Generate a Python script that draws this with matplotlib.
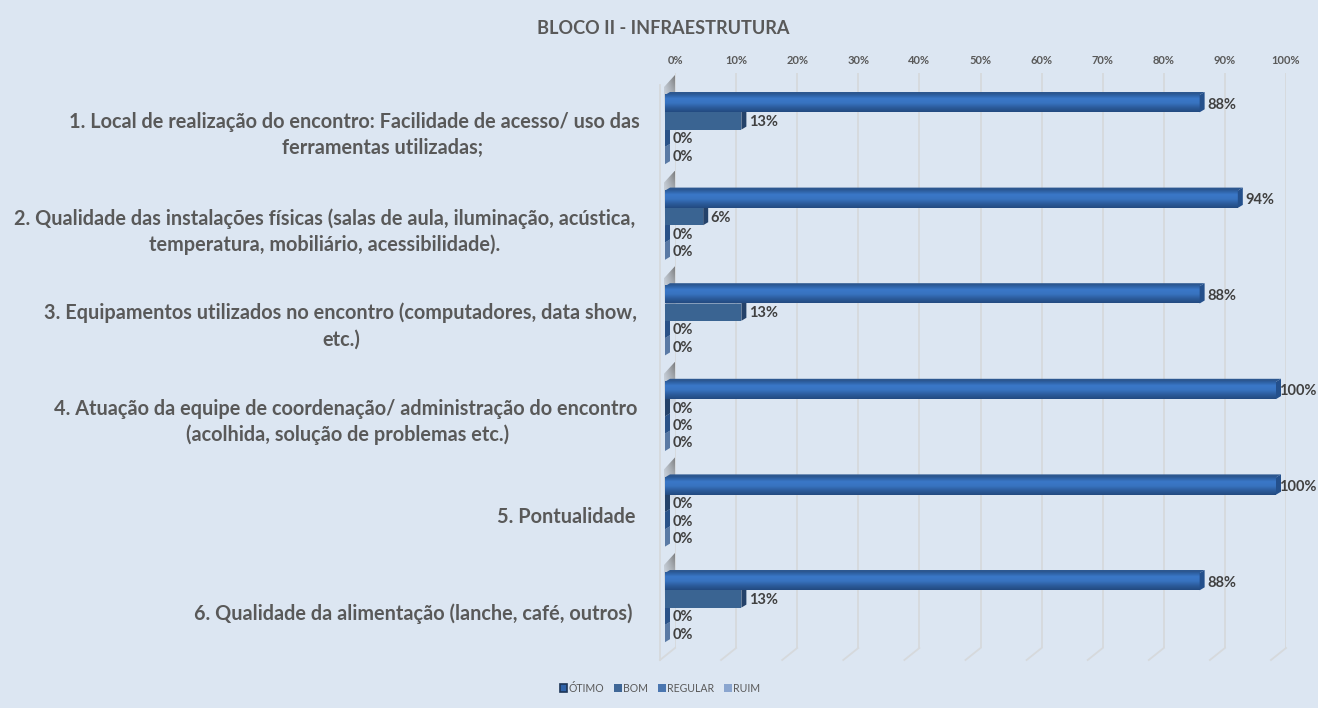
import numpy as np
import matplotlib
matplotlib.use('Agg')
import matplotlib.pyplot as plt
from matplotlib.patches import Polygon, Patch
from matplotlib.colors import LinearSegmentedColormap

W, H = 1318, 708
BG = '#dce6f2'
FONT = ['Lato', 'DejaVu Sans']
TXT = '#595959'

series = ['ÓTIMO', 'BOM', 'REGULAR', 'RUIM']
otimo = [87.5, 93.75, 87.5, 100, 100, 87.5]
bom = [12.5, 6.25, 12.5, 0, 0, 12.5]
regular = [0, 0, 0, 0, 0, 0]
ruim = [0, 0, 0, 0, 0, 0]
label_otimo = ['88%', '94%', '88%', '100%', '100%', '88%']
label_bom = ['13%', '6%', '13%', '0%', '0%', '13%']
label_regular = ['0%', '0%', '0%', '0%', '0%', '0%']
label_ruim = ['0%', '0%', '0%', '0%', '0%', '0%']
category_lines = [
    ['1. Local de realização do encontro: Facilidade de acesso/ uso das', 'ferramentas utilizadas;'],
    ['2. Qualidade das instalações físicas (salas de aula, iluminação, acústica,', 'temperatura, mobiliário, acessibilidade).'],
    ['3. Equipamentos utilizados no encontro (computadores, data show,', 'etc.)'],
    ['4. Atuação da equipe de coordenação/ administração do encontro', '(acolhida, solução de problemas etc.)'],
    ['5. Pontualidade'],
    ['6. Qualidade da alimentação (lanche, café, outros)'],
]
category_x = [[354.5, 383], [325, 325], [340, 341], [346, 348], [566], [413]]
category_y = [[122, 148], [219, 245], [313, 340], [409, 435], [517], [614]]
ticks = list(range(0, 101, 10))

L, R, T, B = 675, 1286, 73, 648
fig = plt.figure(figsize=(W / 100, H / 100), dpi=100, facecolor=BG)
ax = fig.add_axes([L / W, 1 - B / H, (R - L) / W, (B - T) / H], facecolor='none')
ax.set_xlim(0, 100)
ax.set_ylim(6, 0)
for s in ax.spines.values():
    s.set_visible(False)
PX = 100 / (R - L)
PY = 6 / (B - T)

ax.set_xticks(ticks)
ax.set_xticklabels([f'{t}%' for t in ticks], fontfamily=FONT, fontsize=8, fontweight='bold', color=TXT)
ax.xaxis.tick_top()
ax.tick_params(axis='x', length=0, pad=5)
ax.set_yticks([])
ax.set_axisbelow(True)
ax.grid(axis='x', color='#d6d9dc', lw=1.3, zorder=0)

# floor lines and left wall
for t in ticks:
    ax.plot([t, t - 15 * PX], [6, 6 + 12 * PY], color='#d6d9dc', lw=1.3, clip_on=False, zorder=1)
ax.plot([-15 * PX, -15 * PX], [12 * PY, 6 + 12 * PY], color='#d6d9dc', lw=1.3, clip_on=False, zorder=1)

# wall shadow above every group
ga = np.zeros((64, 32, 4))
ga[..., :3] = 0.42
ga[..., 3] = (np.linspace(0.9, 0, 64)[:, None] ** 1.2) * np.linspace(0.35, 1, 32)[None, :]
PITCH = 95.6 * PY
for i in range(6):
    top = i * PITCH
    xa, xb = -11 * PX, 0
    im = ax.imshow(ga, extent=(xa, xb, top + 50 * PY, top + 2 * PY), aspect='auto', zorder=2)
    poly = Polygon([[xa, top + 14 * PY], [xb, top + 2 * PY], [xb, top + 48 * PY], [xa, top + 52 * PY]],
                   transform=ax.transData, fc='none', ec='none', clip_on=False)
    ax.add_patch(poly)
    im.set_clip_box(fig.bbox)
    im.set_clip_path(poly)

# bars
OFFX = -10 * PX
FIRST = 95 - T  # pixels from axes top to the front top of the first bar
BAR = 17.3 * PY
DX, DY = 5 * PX, 3 * PY
grad = LinearSegmentedColormap.from_list('g', ['#2b5a98', '#3a78c8', '#3873c0', '#2c5c9c', '#234a80'])
gdata = np.linspace(0, 1, 64)[:, None]
front = [None, '#3a6492', '#3f6fa8', '#6f8fba']
topc = ['#2c5790', '#2f5585', '#2f5585', '#56769f']
side = ['#24508c', '#24426a', '#2a5288', '#5a7aa5']
labels = [label_otimo, label_bom, label_regular, label_ruim]
values = [otimo, bom, regular, ruim]


def draw_bar(i, j, v, lab):
    y0 = i * PITCH + FIRST * PY + j * BAR
    y1 = y0 + BAR
    x0 = OFFX
    x1 = OFFX + v
    z = 10 - j * 0.1
    if v > 0:
        ax.add_patch(Polygon([[x0, y0], [x0 + DX, y0 - DY], [x1 + DX, y0 - DY], [x1, y0]],
                             fc=topc[j], ec='none', clip_on=False, zorder=z))
        if j == 0:
            ax.imshow(gdata, extent=(x0, x1, y1, y0), aspect='auto', cmap=grad, zorder=z + 0.01, clip_on=False)
        else:
            ax.barh(y0 + BAR / 2, x1 - x0, left=x0, height=BAR, color=front[j], clip_on=False, zorder=z)
    ax.add_patch(Polygon([[x1, y0], [x1 + DX, y0 - DY], [x1 + DX, y1 - DY], [x1, y1]],
                         fc=side[j], ec='none', clip_on=False, zorder=z + 0.02))
    tx = min(x1 + 7.5 * PX, (1279 - L) * PX)
    ax.text(tx, (y0 + y1) / 2 + 1 * PY, lab, ha='left', va='center', fontfamily=FONT, fontsize=10.5,
            fontweight='bold', color='#404040', clip_on=False, zorder=20)


for i in range(6):
    for j in range(3, -1, -1):
        draw_bar(i, j, values[j][i], labels[j][i])

ax.set_xlim(0, 100)
ax.set_ylim(6, 0)

# category labels
for lines, xs, ys in zip(category_lines, category_x, category_y):
    for line, x, y in zip(lines, xs, ys):
        fig.text(x / W, 1 - y / H, line, ha='center', va='center', fontfamily=FONT,
                 fontsize=14.35, fontweight='bold', color=TXT)

fig.text(663 / W, 1 - 28 / H, 'BLOCO II - INFRAESTRUTURA', ha='center', va='center',
         fontfamily=FONT, fontsize=13.1, fontweight='bold', color=TXT)

handles = [Patch(fc='#2e62a8', ec='#1d3557', lw=1.2), Patch(fc='#3f6797'), Patch(fc='#4a76b0'), Patch(fc='#8aa5cf')]
fig.legend(handles, series, loc='center', bbox_to_anchor=(660 / W, 1 - 688 / H), ncols=4, frameon=False,
           prop={'family': FONT, 'size': 7.6}, labelcolor=TXT, handlelength=0.7, handleheight=0.7,
           handletextpad=0.15, columnspacing=0.95)

fig.savefig('out.png', dpi=100, facecolor=BG)
